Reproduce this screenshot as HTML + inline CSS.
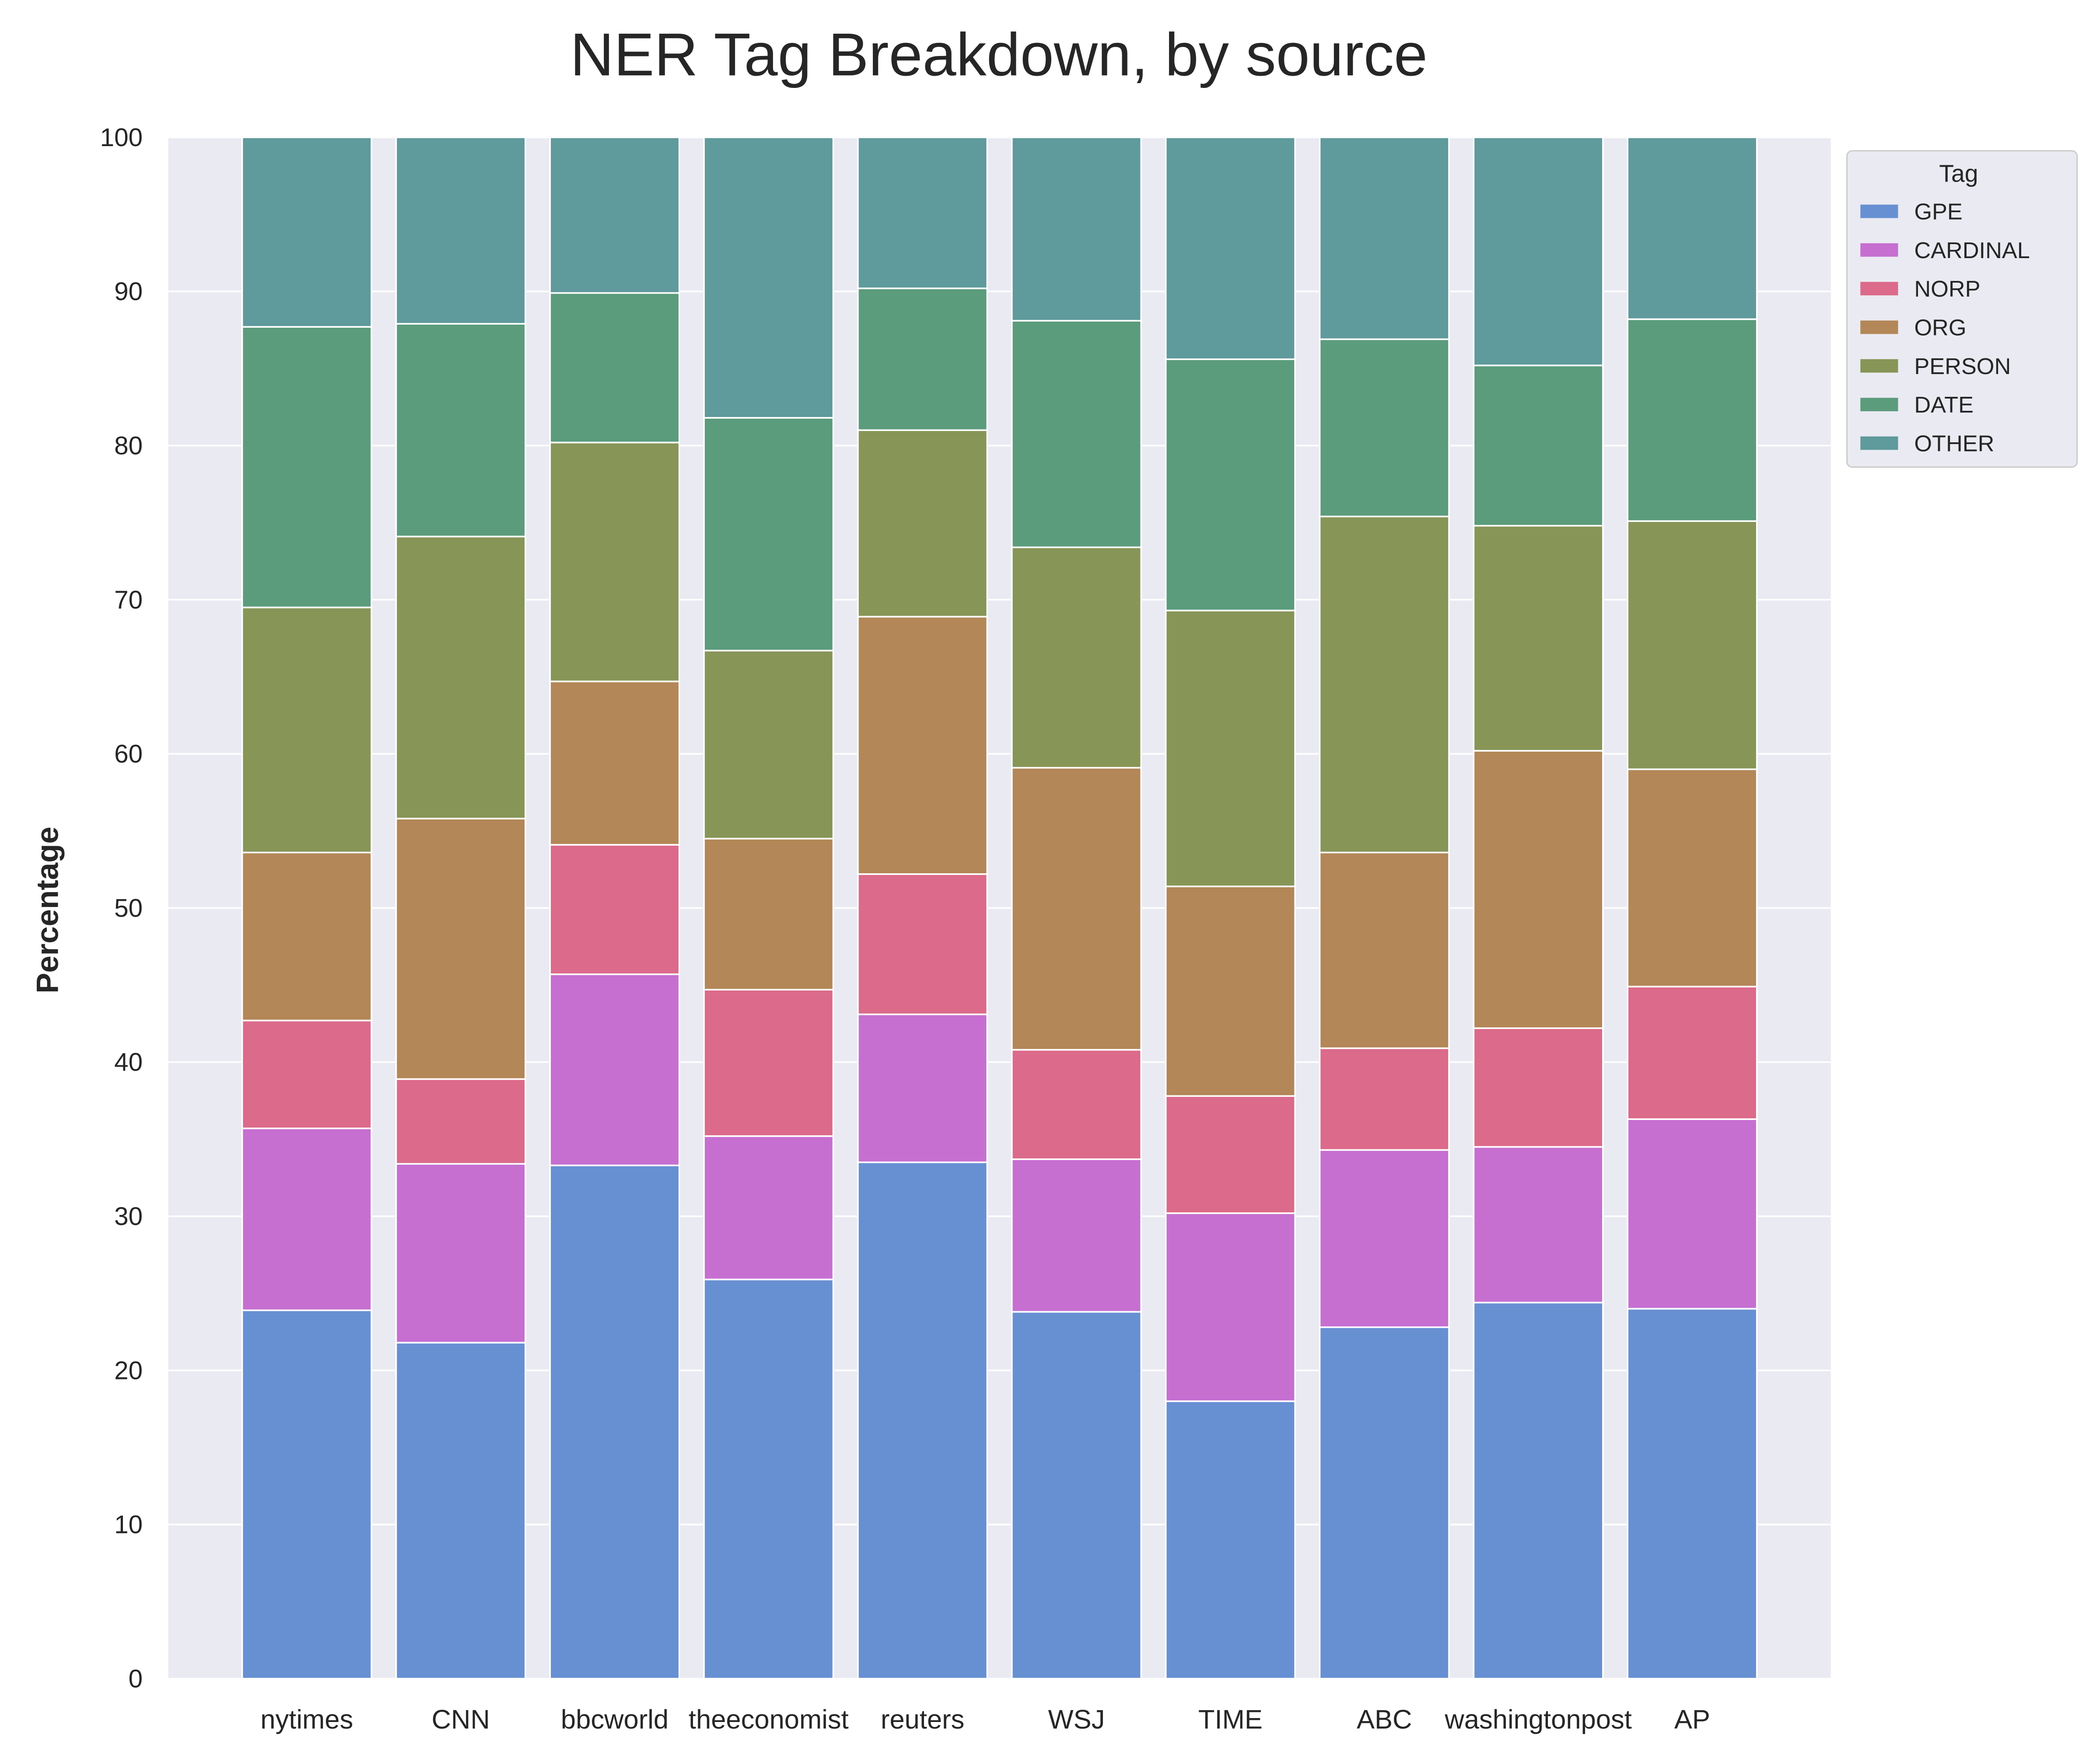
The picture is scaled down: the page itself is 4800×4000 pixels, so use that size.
<!DOCTYPE html>
<html><head><meta charset="utf-8"><style>
html,body{margin:0;padding:0;background:#fff;}
svg{display:block;font-family:"Liberation Sans","DejaVu Sans",sans-serif;}
</style></head><body>
<svg id="chart" width="4800" height="4000" viewBox="0 0 1560 1300" xmlns="http://www.w3.org/2000/svg">
<rect width="1560" height="1300" fill="#ffffff"/>
<text x="742" y="56" font-size="45" text-anchor="middle" fill="#262626">NER Tag Breakdown, by source</text>
<rect x="125" y="102" width="1235" height="1145" fill="#eaeaf2"/>
<g id="grid"></g>
<g id="bars"></g>
<g id="ticks"></g>
<text x="0" y="0" transform="translate(43,676) rotate(-90)" font-size="23" font-weight="bold" text-anchor="middle" fill="#262626">Percentage</text>
<g id="legend"></g>
</svg>
<script>
const categories = ["nytimes","CNN","bbcworld","theeconomist","reuters","WSJ","TIME","ABC","washingtonpost","AP"];
const tags = ["GPE","CARDINAL","NORP","ORG","PERSON","DATE","OTHER"];
const gpe      = [23.9,21.8,33.3,25.9,33.5,23.8,18.0,22.8,24.4,24.0];
const cardinal = [11.8,11.6,12.4,9.3,9.6,9.9,12.2,11.5,10.1,12.3];
const norp     = [7.0,5.5,8.4,9.5,9.1,7.1,7.6,6.6,7.7,8.6];
const org      = [10.9,16.9,10.6,9.8,16.7,18.3,13.6,12.7,18.0,14.1];
const person   = [15.9,18.3,15.5,12.2,12.1,14.3,17.9,21.8,14.6,16.1];
const date     = [18.2,13.8,9.7,15.1,9.2,14.7,16.3,11.5,10.4,13.1];
const other    = [12.3,12.1,10.1,18.2,9.8,11.9,14.4,13.1,14.8,11.8];
const yTicks = [0,10,20,30,40,50,60,70,80,90,100];

const series = [gpe,cardinal,norp,org,person,date,other];
const colors = ["#6790d3","#c66fd1","#dc6a8a","#b38757","#879557","#5b9c7c","#5f9a9c"];
const NS = "http://www.w3.org/2000/svg";
const px0=125, px1=1360, py0=1247, py1=102;
const xmin=-0.9, xmax=9.9, barW=0.84;
const x = v => px0 + (v - xmin) / (xmax - xmin) * (px1 - px0);
const y = v => py0 - v / 100 * (py0 - py1);
function mk(tag, attrs, parent){const e=document.createElementNS(NS,tag);for(const k in attrs)e.setAttribute(k,attrs[k]);parent.appendChild(e);return e;}
const grid=document.getElementById('grid'), bars=document.getElementById('bars'), ticks=document.getElementById('ticks'), legend=document.getElementById('legend');
yTicks.forEach(t=>{
  const l=mk('line',{x1:px0,x2:px1,y1:y(t),y2:y(t),stroke:'#fff','stroke-width':1.2},grid);
  
  
  const tx=mk('text',{x:px0-19,y:y(t)+6.5,'font-size':19,'text-anchor':'end',fill:'#262626'},ticks);
  tx.textContent=t;
  
  
});
categories.forEach((c,i)=>{
  let base=0;
  series.forEach((s,j)=>{
    const v=s[i];
    const r=mk('rect',{x:x(i-barW/2),width:x(i+barW/2)-x(i-barW/2),y:y(base+v),height:y(base)-y(base+v),fill:colors[j],stroke:'#fff','stroke-width':1.2},bars);
    
    
    base+=v;
  });
  const tx=mk('text',{x:x(i),y:1284,'font-size':20,'text-anchor':'middle',fill:'#262626'},ticks);
  tx.textContent=c;
  
  
});
mk('rect',{x:1372,y:112,width:171,height:235,rx:4,fill:'#eaeaf2',stroke:'#cccccc','stroke-width':1},legend);
const lt=mk('text',{x:1455,y:135,'font-size':18,'text-anchor':'middle',fill:'#262626'},legend);
lt.textContent='Tag';


tags.forEach((t,j)=>{
  const yy=157+j*28.7;
  const g=mk('g',{},legend);
  
  
  mk('rect',{x:1382,y:yy-5,width:28,height:10,fill:colors[j]},g);
  const tx=mk('text',{x:1422,y:yy+6,'font-size':17,fill:'#262626'},g);
  tx.textContent=t;
});
</script>
</body></html>
